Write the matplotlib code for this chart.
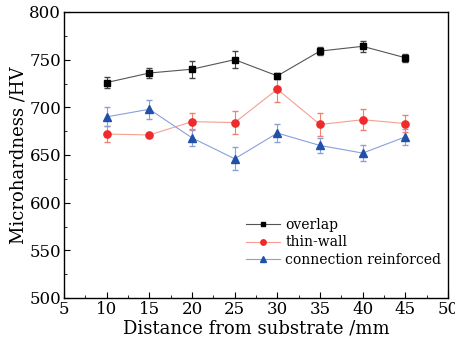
import numpy as np
import matplotlib
matplotlib.use("Agg")
import matplotlib.pyplot as plt
from matplotlib.ticker import MultipleLocator
from matplotlib.lines import Line2D

plt.rcParams['font.family'] = ['DejaVu Serif']

distance = [10, 15, 20, 25, 30, 35, 40, 45]

overlap = [726, 736, 740, 750, 733, 759, 764, 752]
overlap_err = [6, 5, 9, 9, 3, 4, 6, 4]

thin_wall = [672, 671, 685, 684, 719, 682, 687, 683]
thin_wall_err = [8, 2, 9, 12, 13, 12, 11, 9]

connection = [690, 698, 668, 646, 673, 660, 652, 669]
connection_err = [10, 10, 9, 12, 9, 8, 8, 8]

labels = ['overlap', 'thin-wall', 'connection reinforced']

fig = plt.figure(figsize=(4.55, 3.47), dpi=100)
ax = fig.add_axes([64 / 455, 1 - 298 / 347, 384 / 455, 286 / 347])

styles = [
    dict(color='#555555', marker='s', ms=4.8, mc='black', ec='#444444'),
    dict(color='#f4a090', marker='o', ms=5.2, mc='#ee2a2a', ec='#f08070'),
    dict(color='#8aa0dc', marker='^', ms=5.8, mc='#2050a8', ec='#8aa0dc'),
]
series = [(overlap, overlap_err), (thin_wall, thin_wall_err), (connection, connection_err)]

handles = []
for (vals, errs), st, lab in zip(series, styles, labels):
    ax.errorbar(distance, vals, yerr=errs, color=st['color'], lw=0.8,
                marker=st['marker'], ms=st['ms'], mfc=st['mc'], mec=st['mc'],
                ecolor=st['ec'], elinewidth=0.8, capsize=2.5)
    handles.append(Line2D([], [], color=st['color'], lw=0.8, marker=st['marker'],
                          ms=st['ms'] * 0.75, mfc=st['mc'], mec=st['mc'], label=lab))

ax.set_xlim(5, 50)
ax.set_ylim(500, 800)
ax.xaxis.set_major_locator(MultipleLocator(5))
ax.xaxis.set_minor_locator(MultipleLocator(2.5))
ax.yaxis.set_major_locator(MultipleLocator(50))
ax.yaxis.set_minor_locator(MultipleLocator(25))
ax.tick_params(which='both', direction='in', labelsize=12, pad=2)
ax.tick_params(which='major', length=4)
ax.tick_params(which='minor', length=2)
ax.tick_params(top=False, right=False, which='both')
for s in ax.spines.values():
    s.set_linewidth(1.0)

ax.set_xlabel('Distance from substrate /mm', fontsize=13, labelpad=1)
ax.set_ylabel('Microhardness /HV', fontsize=13, labelpad=1)

ax.legend(handles=handles, loc='lower right', bbox_to_anchor=(1.015, 0.065), frameon=False,
          fontsize=10, handlelength=2.4, handletextpad=0.4, labelspacing=0.25)

fig.savefig('out.png', dpi=100)
